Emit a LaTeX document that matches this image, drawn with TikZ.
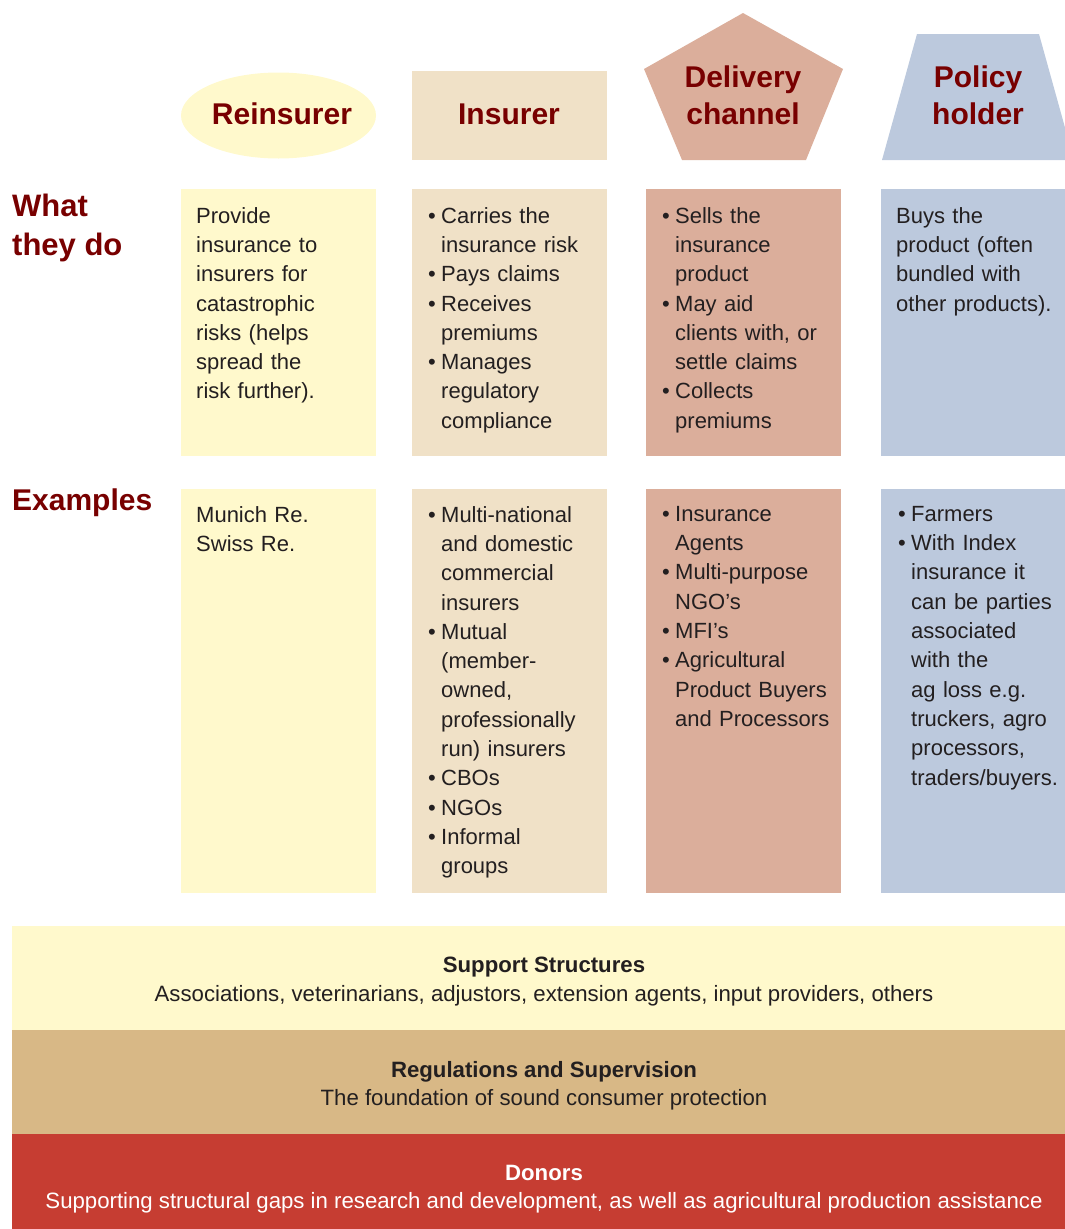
\documentclass[tikz,border=0pt]{standalone}
\usepackage{fontspec}
\setmainfont{Liberation Sans}
\usepackage{tikz}
\usetikzlibrary{shapes}
\usetikzlibrary{positioning}
\definecolor{reyellow}{HTML}{FFF9CC}
\definecolor{insbeige}{HTML}{F0E1C7}
\definecolor{delrose}{HTML}{DBAE9B}
\definecolor{polblue}{HTML}{BCC9DD}
\definecolor{regtan}{HTML}{D8B886}
\definecolor{donred}{HTML}{C63D32}
\definecolor{headred}{HTML}{780000}
\definecolor{bodytext}{HTML}{231F20}
\newcommand \bul [1] {\hangindent=13pt\hangafter=1\noindent\makebox[13pt][l]{\textbullet}#1\par}
\tikzstyle{head}=[font=\fontsize{30}{37}\selectfont\bfseries,text=headred,align=center,inner sep=0mm]
\tikzstyle{col}=[rectangle,anchor=north west,inner sep=0mm,minimum width=195pt]
\tikzstyle{band}=[rectangle,anchor=north west,inner sep=0mm,minimum width=1064pt,minimum height=104pt]
\tikzstyle{body}=[anchor=north west,text width=185pt,align=left,inner sep=0mm,font=\fontsize{22}{29.3}\selectfont,text=bodytext]
\tikzstyle{bandtxt}=[anchor=north,align=center,inner sep=0mm,font=\fontsize{22.2}{28.5}\selectfont,text=bodytext]

\begin{document}
\begin{tikzpicture}[x=1pt,y=-1pt]
        \useasboundingbox (0,0) rectangle (1065,1229);
        % headers
        \node[ellipse,fill=reyellow,inner sep=0mm,minimum width=195pt,minimum height=86pt] at (278.5,115.5) (reins) {};
        \node[head] at (282,114) (reinsT) {Reinsurer};
        \node[rectangle,fill=insbeige,inner sep=0mm,minimum width=195pt,minimum height=89pt] at (509.5,115.5) (ins) {};
        \node[head] at (509,114) (insT) {Insurer};
        \fill[delrose] (743,13) -- (843,69) -- (806,160) -- (682,160) -- (644,69) -- cycle;
        \node[head] at (743,95) (delT) {Delivery\\channel};
        \fill[polblue] (917,34) -- (1039,34) -- (1074,160) -- (882,160) -- cycle;
        \node[head] at (978,95) (polT) {Policy\\holder};
        % row labels
        \node[head,align=left,anchor=north west,font=\fontsize{31}{39}\selectfont\bfseries] at (12,194) (what) {What\\they do};
        \node[head,anchor=north west] at (12,489) (examples) {Examples};
        % columns
        \foreach \x/\c/\n in {181/reyellow/re,412/insbeige/ins,646/delrose/del,881/polblue/pol} {
          \node[col,fill=\c,minimum height=267pt] at (\x,189) (\n do) {};
          \node[col,fill=\c,minimum height=404pt] at (\x,489) (\n ex) {};
        }
        \node[body] at (196,207) (redoT) {Provide\\insurance to\\insurers for\\catastrophic\\risks (helps\\spread the\\risk further).};
        \node[body] at (428,207) (insdoT) {\bul{Carries the\newline insurance risk}\bul{Pays claims}\bul{Receives\newline premiums}\bul{Manages\newline regulatory\newline compliance}};
        \node[body] at (662,207) (deldoT) {\bul{Sells the\newline insurance\newline product}\bul{May aid\newline clients with, or\newline settle claims}\bul{Collects\newline premiums}};
        \node[body] at (896,207) (poldoT) {Buys the\\product (often\\bundled with\\other products).};
        \node[body] at (196,506) (reexT) {Munich Re.\\Swiss Re.};
        \node[body] at (428,506) (insexT) {\bul{Multi-national\newline and domestic\newline commercial\newline insurers}\bul{Mutual\newline (member-\newline owned,\newline professionally\newline run) insurers}\bul{CBOs}\bul{NGOs}\bul{Informal\newline groups}};
        \node[body] at (662,506) (delexT) {\bul{Insurance\newline Agents}\bul{Multi-purpose\newline NGO's}\bul{MFI's}\bul{Agricultural\newline Product Buyers\newline and Processors}};
        \node[body] at (898,506) (polexT) {\bul{Farmers}\bul{With Index\newline insurance it\newline can be parties\newline associated\newline with the\newline ag loss e.g.\newline truckers, agro\newline processors,\newline traders/buyers.}};
        % bands
        \node[band,fill=reyellow] at (12,926) (support) {};
        \node[band,fill=regtan] at (12,1030) (regs) {};
        \node[band,fill=donred] at (12,1134) (donors) {};
        \node[bandtxt] at (544,957) (supportT) {\textbf{Support Structures}\\Associations, veterinarians, adjustors, extension agents, input providers, others};
        \node[bandtxt] at (544,1061) (regsT) {\textbf{Regulations and Supervision}\\The foundation of sound consumer protection};
        \node[bandtxt,text=white] at (544,1165) (donorsT) {\textbf{Donors}\\Supporting structural gaps in research and development, as well as agricultural production assistance};
      \end{tikzpicture}
\end{document}
